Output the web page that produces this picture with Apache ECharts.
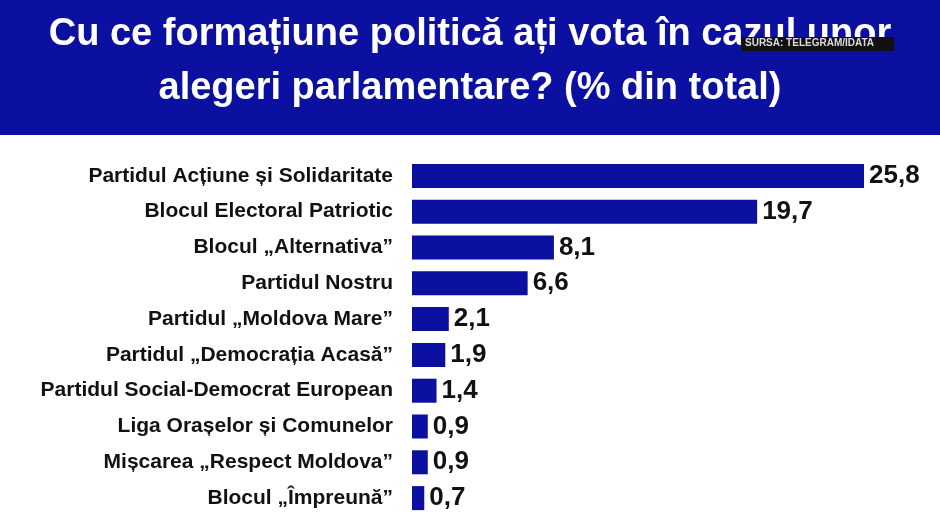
<!DOCTYPE html>
<html>
<head>
<meta charset="utf-8">
<script src="https://cdn.jsdelivr.net/npm/echarts@6/dist/echarts.min.js"></script>
<style>html,body{margin:0;padding:0;background:#fff}#main{width:940px;height:524px}</style>
</head>
<body>
<div id="main"></div>
<script>
// categorii si valori (% din total)
var parties = ['Partidul Acțiune și Solidaritate', 'Blocul Electoral Patriotic', 'Blocul „Alternativa”',
    'Partidul Nostru', 'Partidul „Moldova Mare”', 'Partidul „Democrația Acasă”',
    'Partidul Social-Democrat European', 'Liga Orașelor și Comunelor', 'Mișcarea „Respect Moldova”', 'Blocul „Împreună”'];
var values = [25.8, 19.7, 8.1, 6.6, 2.1, 1.9, 1.4, 0.9, 0.9, 0.7];

var myChart = echarts.init(document.getElementById('main'));
var option = {
    animation: false,
    graphic: [
        { type: 'rect', left: 0, top: 0, shape: { width: 940, height: 135 }, style: { fill: '#0b10a0' } },
        { type: 'text', left: 'center', top: 16, style: { text: 'Cu ce formațiune politică ați vota în cazul unor', fill: '#fff', font: 'bold 38px Arial, "Liberation Sans"' } },
        { type: 'text', left: 'center', top: 70, style: { text: 'alegeri parlamentare? (% din total)', fill: '#fff', font: 'bold 38px Arial, "Liberation Sans"' } },
        { type: 'rect', left: 741, top: 37, shape: { width: 153, height: 14 }, style: { fill: '#111' }, z: 10 },
        { type: 'text', left: 745, top: 38, z: 11, style: { text: 'SURSA: TELEGRAM/IDATA', fill: '#ddd', font: 'bold 10px Arial' } }
    ],
    grid: { left: 412, right: 2.4, top: 158, height: 358 },
    xAxis: { type: 'value', min: 0, max: 30, show: false },
    yAxis: {
        type: 'category', inverse: true, data: parties,
        axisLine: { show: false }, axisTick: { show: false },
        axisLabel: { color: '#111', fontWeight: 'bold', fontSize: 21, fontFamily: 'Arial', margin: 19 }
    },
    series: [{
        type: 'bar', data: values, barWidth: 24,
        itemStyle: { color: '#0b10a0' },
        label: {
            show: true, position: 'right', distance: 5, color: '#111', fontWeight: 'bold', fontSize: 26, fontFamily: 'Arial',
            formatter: function (p) { return String(p.value).replace('.', ','); }
        }
    }]
};
myChart.setOption(option);
</script>
</body>
</html>
